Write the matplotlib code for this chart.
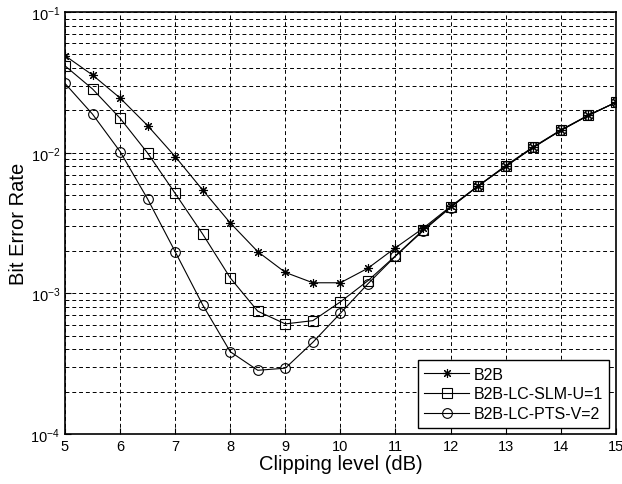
import numpy as np
import matplotlib.pyplot as plt
from matplotlib.ticker import LogLocator, NullFormatter

plt.rcParams['font.family'] = ['Liberation Sans', 'DejaVu Sans']

# nivel de recorte (dB)
clip_db = [5, 5.5, 6, 6.5, 7, 7.5, 8, 8.5, 9, 9.5, 10, 10.5, 11, 11.5, 12, 12.5, 13, 13.5, 14, 14.5, 15]

ber_b2b = [0.049, 0.0357, 0.0245, 0.0156, 0.0094, 0.00543, 0.00317, 0.00198, 0.00141, 0.00119,
           0.00119, 0.00151, 0.00211, 0.00290, 0.00415, 0.0058, 0.0081, 0.0110, 0.0145, 0.0185, 0.0228]
ber_slm = [0.0415, 0.0284, 0.0176, 0.00995, 0.00514, 0.00264, 0.00129, 0.000747, 0.000607, 0.00064,
           0.00087, 0.00123, 0.00185, 0.00282, 0.00410, 0.0058, 0.0080, 0.0109, 0.0144, 0.0184, 0.0228]
ber_pts = [0.0311, 0.0188, 0.0102, 0.00469, 0.00198, 0.000828, 0.000385, 0.000284, 0.000294, 0.000449,
           0.000722, 0.00117, 0.00184, 0.00278, 0.00408, 0.0058, 0.0080, 0.0109, 0.0144, 0.0184, 0.0228]

fig = plt.figure(figsize=(6.22, 4.85), dpi=100)
ax = fig.add_axes([0.1045, 0.103, 0.8855, 0.870])

ax.semilogy(clip_db, ber_b2b, color='black', lw=0.8, marker=(8, 2, 0), ms=6.5, mew=0.8, label='B2B')
ax.semilogy(clip_db, ber_slm, color='black', lw=0.8, marker='s', ms=7, mfc='none', mew=0.8, label='B2B-LC-SLM-U=1')
ax.semilogy(clip_db, ber_pts, color='black', lw=0.8, marker='o', ms=7, mfc='none', mew=0.8, label='B2B-LC-PTS-V=2')

ax.set_xlim(5, 15)
ax.set_ylim(1e-4, 1e-1)
ax.set_xticks(range(5, 16))
ax.yaxis.set_major_locator(LogLocator(base=10, numticks=10))
ax.yaxis.set_minor_locator(LogLocator(base=10, subs=np.arange(2, 10), numticks=10))
ax.yaxis.set_minor_formatter(NullFormatter())
ax.tick_params(which='both', direction='in', labelsize=10.5)
ax.tick_params(which='major', length=4)
ax.tick_params(which='minor', length=2)

ax.grid(True, which='major', color='black', linestyle='--', lw=0.7, dashes=(4, 3))
ax.grid(True, which='minor', axis='y', color='black', linestyle='--', lw=0.7, dashes=(4, 3))
for s in ax.spines.values():
    s.set_linewidth(1.2)

ax.set_xlabel('Clipping level (dB)', fontsize=14.5, labelpad=1)
ax.set_ylabel('Bit Error Rate', fontsize=14.5, labelpad=2)

leg = ax.legend(loc='lower right', fontsize=11.5, fancybox=False, framealpha=1,
                edgecolor='black', borderaxespad=0.4, handlelength=2.8, labelspacing=0.3,
                handletextpad=0.3)
leg.get_frame().set_linewidth(1.0)

fig.savefig('out.png', dpi=100)
